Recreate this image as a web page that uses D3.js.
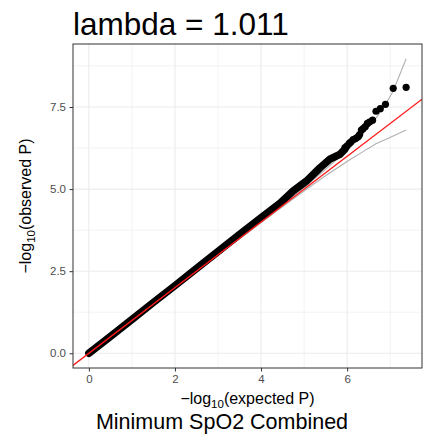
<!DOCTYPE html>
<html>
<head>
<meta charset="utf-8">
<script src="https://cdn.jsdelivr.net/npm/d3@7"></script>
<style>
  body { margin: 0; background: #fff; }
  text { font-family: "Liberation Sans", Arial, Helvetica, sans-serif; }
</style>
</head>
<body>
<script>
// QQ data
const bulkExpected = [0, 0.5, 1, 1.5, 2, 2.5, 3, 3.5, 4, 4.44, 4.75, 5.06, 5.37, 5.6, 5.83, 5.95];
const bulkObserved = [0, 0.51, 1.03, 1.55, 2.06, 2.58, 3.1, 3.62, 4.13, 4.57, 4.95, 5.25, 5.65, 5.91, 6.06, 6.22];

const tailExpected = [5.95, 6.0, 6.05, 6.09, 6.14, 6.19, 6.22, 6.26, 6.29, 6.33, 6.37, 6.42, 6.47, 6.52, 6.59, 6.67, 6.77, 6.89, 7.07, 7.37];
const tailObserved = [6.26, 6.32, 6.39, 6.44, 6.51, 6.53, 6.56, 6.6, 6.66, 6.8, 6.84, 6.9, 7.0, 7.04, 7.1, 7.37, 7.45, 7.58, 8.07, 8.1];

// confidence band (gray lines)
const ciExpected = [0, 1, 2, 3, 3.37, 4.37, 4.67, 5.07, 5.37, 5.67, 5.89, 6.07, 6.37, 6.67, 6.89, 7.07, 7.37];
const ciUpper    = [0, 1, 2, 3, 3.38, 4.40, 4.71, 5.13, 5.46, 5.80, 6.06, 6.28, 6.69, 7.16, 7.58, 7.99, 8.97];
const ciLower    = [0, 1, 2, 3, 3.36, 4.34, 4.63, 5.01, 5.29, 5.56, 5.75, 5.90, 6.14, 6.38, 6.51, 6.62, 6.80];

const xTicks = [0, 2, 4, 6];
const xMinor = [1, 3, 5, 7];
const yTicks = [0, 2.5, 5, 7.5];
const yMinor = [1.25, 3.75, 6.25, 8.75];

const titleText = "lambda = 1.011";
const captionText = "Minimum SpO2 Combined";

const W = 427, H = 439;
const panel = { left: 73, right: 422, top: 44, bottom: 368 };

const svg = d3.select("body").append("svg")
    .attr("width", W)
    .attr("height", H);

// ggplot-like 5% expansion
function expand(lo, hi) {
    const pad = (hi - lo) * 0.05;
    return [lo - pad, hi + pad];
}
const xMax = d3.max(tailExpected);
const yMax = d3.max(ciUpper.concat(tailObserved));

const x = d3.scaleLinear().domain(expand(0, xMax)).range([panel.left, panel.right]);
const y = d3.scaleLinear().domain(expand(0, yMax)).range([panel.bottom, panel.top]);

svg.append("clipPath").attr("id", "clip")
    .append("rect")
    .attr("x", panel.left).attr("y", panel.top)
    .attr("width", panel.right - panel.left)
    .attr("height", panel.bottom - panel.top);

// grid
const grid = svg.append("g");
grid.selectAll(".xmin").data(xMinor).join("line")
    .attr("x1", d => x(d)).attr("x2", d => x(d))
    .attr("y1", panel.top).attr("y2", panel.bottom)
    .attr("stroke", "#ebebeb").attr("stroke-width", 0.6);
grid.selectAll(".ymin").data(yMinor).join("line")
    .attr("y1", d => y(d)).attr("y2", d => y(d))
    .attr("x1", panel.left).attr("x2", panel.right)
    .attr("stroke", "#ebebeb").attr("stroke-width", 0.6);
grid.selectAll(".xmaj").data(xTicks).join("line")
    .attr("x1", d => x(d)).attr("x2", d => x(d))
    .attr("y1", panel.top).attr("y2", panel.bottom)
    .attr("stroke", "#ebebeb").attr("stroke-width", 1.1);
grid.selectAll(".ymaj").data(yTicks).join("line")
    .attr("y1", d => y(d)).attr("y2", d => y(d))
    .attr("x1", panel.left).attr("x2", panel.right)
    .attr("stroke", "#ebebeb").attr("stroke-width", 1.1);

const plot = svg.append("g").attr("clip-path", "url(#clip)");

// gray CI lines
const ciLine = (vals) => d3.line()
    .x((d, i) => x(ciExpected[i]))
    .y(d => y(d))(vals);
plot.append("path").attr("d", ciLine(ciUpper))
    .attr("fill", "none").attr("stroke", "#b0b0b0").attr("stroke-width", 1.1);
plot.append("path").attr("d", ciLine(ciLower))
    .attr("fill", "none").attr("stroke", "#b0b0b0").attr("stroke-width", 1.1);

// dense part of the points: overlapping dots form a band
const bulk = bulkExpected.map((e, i) => [e, bulkObserved[i]]);
plot.append("path")
    .attr("d", d3.line().x(d => x(d[0])).y(d => y(d[1]))(bulk))
    .attr("fill", "none")
    .attr("stroke", "#000")
    .attr("stroke-width", 7.5)
    .attr("stroke-linecap", "round")
    .attr("stroke-linejoin", "round");

const tail = tailExpected.map((e, i) => [e, tailObserved[i]]);
plot.selectAll(".pt").data(tail).join("circle")
    .attr("cx", d => x(d[0]))
    .attr("cy", d => y(d[1]))
    .attr("r", 3.6)
    .attr("fill", "#000");

// y = x reference line
const xd = x.domain();
plot.append("line")
    .attr("x1", x(xd[0])).attr("y1", y(xd[0]))
    .attr("x2", x(xd[1])).attr("y2", y(xd[1]))
    .attr("stroke", "#ff1a1a").attr("stroke-width", 1.3);

// border
svg.append("rect")
    .attr("x", panel.left).attr("y", panel.top)
    .attr("width", panel.right - panel.left)
    .attr("height", panel.bottom - panel.top)
    .attr("fill", "none").attr("stroke", "#333").attr("stroke-width", 1);

// axes
const xAxis = svg.append("g")
    .attr("transform", `translate(0,${panel.bottom})`)
    .call(d3.axisBottom(x).tickValues(xTicks).tickFormat(d3.format("d")).tickSize(3.5).tickPadding(3));
const yAxis = svg.append("g")
    .attr("transform", `translate(${panel.left},0)`)
    .call(d3.axisLeft(y).tickValues(yTicks).tickFormat(d3.format(".1f")).tickSize(3.5).tickPadding(3.5));
[xAxis, yAxis].forEach(a => {
    a.select(".domain").remove();
    a.selectAll("line").attr("stroke", "#333");
    a.selectAll("text").attr("fill", "#4d4d4d").style("font-size", "11.5px")
        .style("font-family", "'Liberation Sans', Arial, sans-serif");
});

// title
svg.append("text")
    .attr("x", panel.left).attr("y", 35)
    .style("font-size", "31.5px")
    .attr("fill", "#000")
    .text(titleText);

// axis titles with subscript
function axisTitle(g, word) {
    g.append("tspan").text("\u2212log");
    g.append("tspan").attr("dy", 4).style("font-size", "11.5px").text("10");
    g.append("tspan").attr("dy", -4).text("(" + word + " P)");
}
const xt = svg.append("text")
    .attr("x", (panel.left + panel.right) / 2).attr("y", 404)
    .attr("text-anchor", "middle")
    .style("font-size", "16px").attr("fill", "#000");
axisTitle(xt, "expected");

const yt = svg.append("text")
    .attr("transform", `translate(31,${(panel.top + panel.bottom) / 2}) rotate(-90)`)
    .attr("text-anchor", "middle")
    .style("font-size", "16px").attr("fill", "#000");
axisTitle(yt, "observed");

// caption
svg.append("text")
    .attr("x", 222).attr("y", 429)
    .attr("text-anchor", "middle")
    .style("font-size", "21.5px").attr("fill", "#000")
    .text(captionText);
</script>
</body>
</html>
